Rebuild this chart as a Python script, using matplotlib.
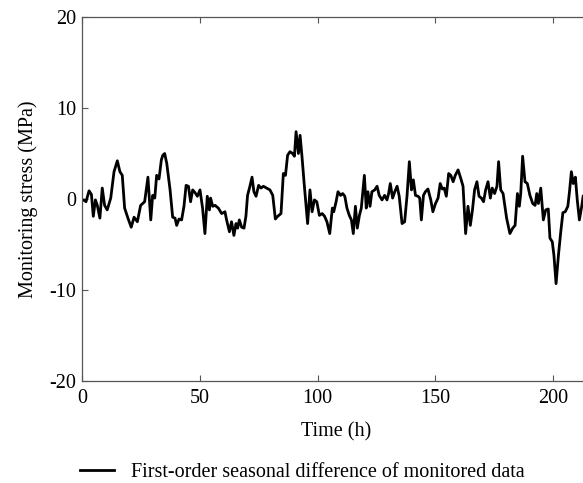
import matplotlib
matplotlib.use("Agg")
import matplotlib.pyplot as plt
import numpy as np

# time (h) and first-order seasonal difference (MPa)
time_h = [
    0.0, 0.85, 1.7, 3.0, 4.0, 4.8, 5.7, 6.5, 7.6, 8.6, 9.6, 10.7, 12.2, 13.6, 15.0,
    16.1, 17.1, 18.1, 19.5, 20.9, 22.1, 23.5, 24.9, 26.6, 28.0, 29.2, 30.0, 30.9,
    31.7, 32.7, 33.7,
    34.3, 35.1, 36.0, 37.4, 38.5, 39.5, 40.2, 41.2, 42.3, 43.3, 44.2, 45.2, 46.1,
    47.0, 48.0, 49.0, 50.1, 51.2, 52.2, 53.2, 54.1, 54.6, 55.5, 56.5, 57.9, 59.3,
    60.7, 61.4, 62.6, 63.5, 64.5, 65.4, 66.1, 66.8, 67.8, 68.8, 69.6,
    70.3, 71.3, 72.2, 73.0, 73.9, 75.0, 76.0, 77.0, 78.4, 79.8, 81.0, 82.1, 83.1,
    84.5, 85.5, 86.4, 87.3, 88.3, 89.4, 90.2, 90.9, 91.9, 92.6, 93.4, 94.4, 95.8,
    96.8, 97.7, 98.7, 99.7, 100.8, 102.0, 103.0, 104.0, 105.2, 106.3,
    106.9, 107.9, 108.7, 109.8, 110.7, 111.6, 112.5, 113.5, 114.4, 115.2, 116.1,
    116.9, 117.8, 118.6, 119.9, 120.7, 121.4, 122.3, 123.1, 124.3, 125.3, 126.2,
    127.4, 128.5, 129.5, 130.2, 130.9, 131.9, 132.8, 133.8, 134.7, 135.9, 137.0,
    138.0, 139.0, 139.9, 140.7, 141.6, 142.7,
    143.4, 144.1, 145.0, 145.8, 146.9, 148.1, 149.0, 150.1, 151.2, 152.1, 153.0,
    153.8, 154.7, 155.7, 156.6, 157.6, 158.5, 159.7, 160.8, 161.8, 162.9, 163.9,
    164.9, 165.8, 166.7, 167.7, 168.6, 169.6, 170.5, 171.4, 172.4, 173.4, 174.2,
    175.2, 176.2, 176.9, 177.8, 178.8,
    180.3, 181.7, 182.9, 183.9, 184.9, 185.7, 186.3, 187.1, 188.1, 189.1, 190.2,
    191.4, 192.4, 193.1, 193.8, 194.8, 195.9, 196.9, 198.0, 198.7, 199.7, 200.4,
    201.3, 202.3, 203.3, 204.2, 205.2, 206.3, 207.0, 207.8, 208.6, 209.5, 210.3,
    211.2, 212.2, 212.8,
]
stress_diff = [
    -0.2, -0.1, -0.3, 0.9, 0.5, -1.9, -0.1, -0.7, -2.1, 1.2, -0.7, -1.2, 0.1, 3.0, 4.2,
    3.0, 2.6, -1.0, -2.1, -3.1, -2.0, -2.5, -0.7, -0.3, 2.4, -2.3, 0.4, 0.1,
    2.6, 2.2, 4.3,
    4.8, 5.0, 3.9, 1.0, -2.0, -2.1, -2.9, -2.2, -2.3, -0.8, 1.5, 1.4, -0.3,
    1.0, 0.7, 0.3, 1.0, -1.0, -3.8, 0.3, -1.2, 0.1, -0.8, -0.7, -1.0, -1.6,
    -1.4, -2.3, -3.6, -2.5, -4.0, -2.7, -3.2, -2.3, -3.1, -3.2, -1.9,
    0.4, 1.4, 2.4, 0.8, 0.3, 1.5, 1.2, 1.4, 1.2, 1.0, 0.4, -2.2, -1.9,
    -1.6, 2.8, 2.6, 4.8, 5.2, 5.0, 4.7, 7.4, 5.0, 7.0, 4.7, 1.5, -2.7,
    1.0, -1.4, -0.1, -0.3, -1.8, -1.6, -1.9, -2.5, -3.8, -1.0,
    -1.4, -0.3, 0.8, 0.4, 0.6, 0.3, -1.0, -1.8, -2.3, -3.8, -0.8,
    -3.2, -1.8, -1.0, 2.6, -1.0, 0.8, -0.8, 0.8, 1.0, 1.4, 0.4,
    -0.1, 0.4, -0.1, 0.6, 1.7, 0.1, 0.8, 1.4, 0.3, -2.7, -2.5,
    0.3, 4.1, 1.0, 2.1, 0.4, 0.3,
    0.1, -2.3, 0.4, 0.8, 1.1, -0.1, -1.4, -0.5, 0.1, 1.7, 1.1,
    1.2, 0.3, 2.8, 2.6, 1.9, 2.6, 3.2, 2.3, 1.4, -3.8, -0.8,
    -2.9, -1.2, 1.0, 1.9, 0.3, 0.1, -0.3, 1.0, 1.9, 0.1, 1.2,
    0.6, 1.4, 4.1, 1.0, 0.6,
    -2.1, -3.8, -3.2, -2.9, 0.6, -0.8, 0.6, 4.7, 1.9, 1.7, 0.4,
    -0.5, -0.7, 0.6, -0.5, 1.2, -2.3, -1.2, -1.1, -4.3, -4.7, -6.2,
    -9.3, -6.2, -3.6, -1.5, -1.4, -0.8, 0.8, 3.0, 1.7, 2.4, -0.1,
    -2.3, -0.8, 0.3,
]

x_ticks = [0, 50, 100, 150, 200]
y_ticks = [-20, -10, 0, 10, 20]
y_tick_labels = ['-20', '-10', '0', '10', '20']

plt.rcParams['font.family'] = ['Liberation Serif', 'DejaVu Serif']
FS = 14.5

W, H = 583, 483
fig = plt.figure(figsize=(W / 100, H / 100), dpi=100)
left, right, top, bottom = 82, 590, 17, 381
ax = fig.add_axes([left / W, 1 - bottom / H, (right - left) / W, (bottom - top) / H])

ax.plot(time_h, stress_diff, color='black', lw=2.0,
        label='First-order seasonal difference of monitored data')

ax.set_xlim(0, (right - left) / 2.355)
ax.set_ylim(-20, 20)
ax.set_xticks(x_ticks)
ax.set_yticks(y_ticks)
ax.set_yticklabels(y_tick_labels)

for side in ['left', 'bottom', 'top']:
    ax.spines[side].set_color('#555555')
    ax.spines[side].set_linewidth(0.9)
ax.spines['right'].set_visible(False)

ax.tick_params(direction='in', length=4, width=0.8, color='#555555',
               labelsize=FS, top=True, pad=4)
ax.tick_params(axis='x', pad=6)

ax.set_xlabel('Time (h)', fontsize=FS, labelpad=10)
ax.set_ylabel('Monitoring stress (MPa)', fontsize=FS, labelpad=8)

fig.legend(loc='center left', bbox_to_anchor=(80 / W, 1 - 472 / H),
           frameon=False, fontsize=FS, handlelength=1.7, handletextpad=0.85,
           borderpad=0, borderaxespad=0)

fig.savefig('out.png', dpi=100)
